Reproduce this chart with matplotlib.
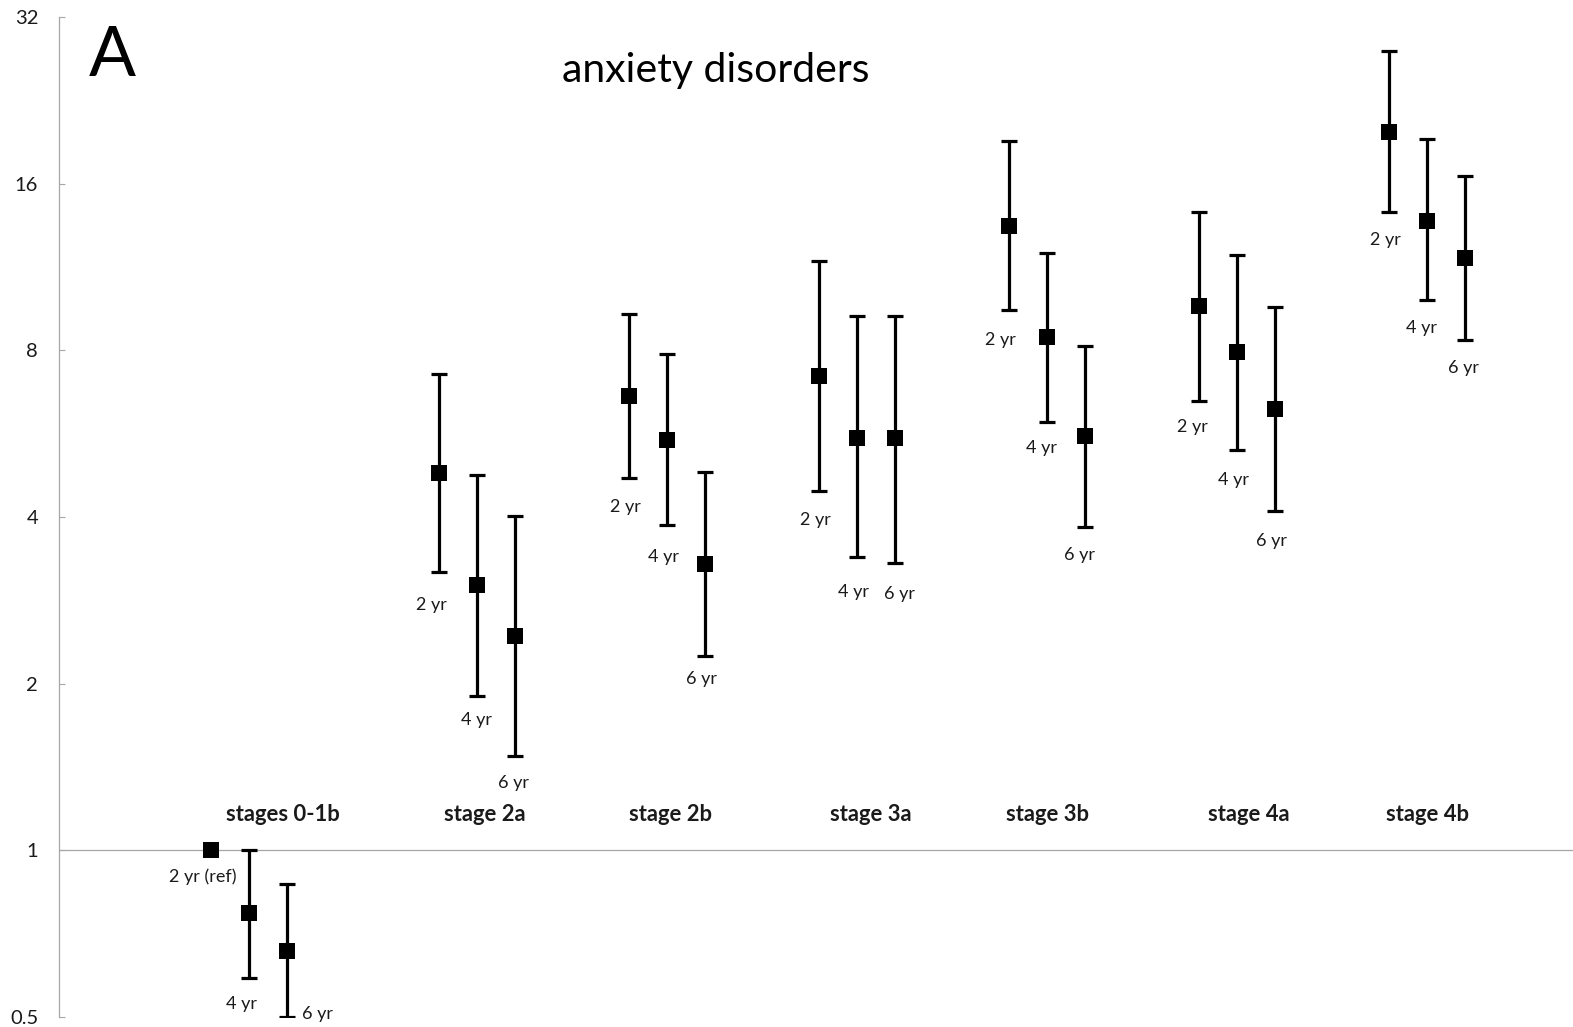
import matplotlib
matplotlib.use("Agg")
import matplotlib.pyplot as plt
import numpy as np

plt.rcParams['font.family'] = ['Lato', 'DejaVu Sans']

# odds ratios (log2 scale) by stage and follow-up year
stages = ['stages 0-1b', 'stage 2a', 'stage 2b', 'stage 3a', 'stage 3b', 'stage 4a', 'stage 4b']
years = ['2 yr', '4 yr', '6 yr']

or_2yr = [1.00, 4.80, 6.62, 7.20, 13.42, 9.62, 19.84]
or_4yr = [0.770, 3.02, 5.51, 5.56, 8.47, 7.94, 13.72]
or_6yr = [0.659, 2.44, 3.29, 5.55, 5.61, 6.26, 11.76]

lo_2yr = [None, 3.18, 4.71, 4.46, 9.45, 6.48, 14.21]
lo_4yr = [0.589, 1.90, 3.87, 3.38, 5.94, 5.28, 9.85]
lo_6yr = [0.50, 1.48, 2.24, 3.30, 3.84, 4.10, 8.36]

hi_2yr = [None, 7.24, 9.31, 11.60, 19.11, 14.21, 27.75]
hi_4yr = [1.00, 4.77, 7.87, 9.22, 12.01, 11.91, 19.25]
hi_6yr = [0.868, 4.02, 4.83, 9.22, 8.14, 9.57, 16.54]

yticks = [0.5, 1, 2, 4, 8, 16, 32]
ytick_labels = ['0.5', '1', '2', '4', '8', '16', '32']

# layout
group_x = [0.8, 2.0, 3.0, 4.0, 5.0, 6.0, 7.0]
year_step = 0.2
stage_label_x = [1.18, 2.24, 3.22, 4.275, 5.20, 6.26, 7.20]
# label offsets in pixels from the lower whisker (dx, dy downwards)
label_offsets = [
    [(-8, 26), (-8, 26), (31, -3)],
    [(-8, 33), (-1, 24), (-2, 27)],
    [(-4, 29), (-4, 32), (-4, 23)],
    [(-4, 29), (-4, 35), (4, 31)],
    [(-9, 30), (-6, 26), (-6, 28)],
    [(-7, 26), (-4, 30), (-4, 30)],
    [(-4, 28), (-5, 28), (-1, 28)],
]

fig = plt.figure(figsize=(15.73, 10.27), dpi=100)
ax = fig.add_axes([59 / 1573, 10 / 1027, (1573 - 59) / 1573, 1000 / 1027])

ax.set_yscale('log', base=2)
ax.set_ylim(0.5, 32)
ax.set_xlim(0, (1573 - 59) / 190)

ax.axhline(1, color='#a6a6a6', lw=0.9, zorder=1)

series = [(or_2yr, lo_2yr, hi_2yr), (or_4yr, lo_4yr, hi_4yr), (or_6yr, lo_6yr, hi_6yr)]
px = 0.72  # points per pixel

for j, (vals, lows, highs) in enumerate(series):
    for i, v in enumerate(vals):
        x = group_x[i] + j * year_step
        if lows[i] is None:
            label = '2 yr (ref)'
            anchor = v
        else:
            err = np.array([[v - lows[i]], [highs[i] - v]])
            ax.errorbar(x, v, yerr=err, fmt='none', ecolor='black',
                        elinewidth=2.3, capsize=5.8, capthick=2.3, zorder=2)
            label = years[j]
            anchor = lows[i]
        ax.plot(x, v, marker='s', ms=11.5, color='black', mew=0, zorder=3)
        dx, dy = label_offsets[i][j]
        ax.annotate(label, (x, anchor), xytext=(dx * px, -dy * px), textcoords='offset points',
                    ha='center', va='center', fontsize=13, color='#1a1a1a')

for i, s in enumerate(stages):
    ax.text(stage_label_x[i], 1.16, s, ha='center', va='center', fontsize=15.8,
            fontweight='bold', color='#1a1a1a')

ax.set_yticks(yticks)
ax.set_yticklabels(ytick_labels)
ax.minorticks_off()
ax.tick_params(axis='y', direction='in', length=4.5, width=0.8, color='#a6a6a6',
               pad=15, labelsize=14.5, labelcolor='#1a1a1a')
ax.set_xticks([])
for side in ['top', 'right', 'bottom']:
    ax.spines[side].set_visible(False)
ax.spines['left'].set_color('#a6a6a6')
ax.spines['left'].set_linewidth(0.9)

fig.text(716 / 1573, 1 - 70 / 1027, 'anxiety disorders', ha='center', va='center', fontsize=29.5)
fig.text(112 / 1573, 1 - 57 / 1027, 'A', ha='center', va='center', fontsize=50)

fig.savefig('out.png', dpi=100)
